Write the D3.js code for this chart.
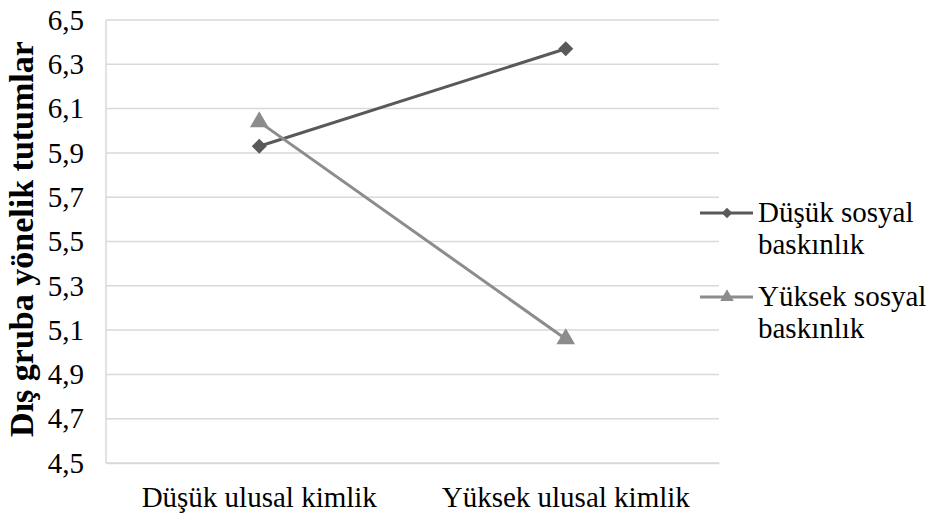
<!DOCTYPE html>
<html><head><meta charset="utf-8">
<script src="https://cdn.jsdelivr.net/npm/d3@7"></script>
<style>body{margin:0;background:#fff}svg{display:block}text{font-family:"Liberation Serif","Times New Roman",serif;fill:#000}</style>
</head><body>
<svg id="c" width="929" height="518"></svg>
<script>
const categories = ["Düşük ulusal kimlik", "Yüksek ulusal kimlik"];
const seriesNames = ["Düşük sosyal baskınlık", "Yüksek sosyal baskınlık"];
const lowSDO = [5.93, 6.37];
const highSDO = [6.04, 5.06];
const yTicks = [4.5, 4.7, 4.9, 5.1, 5.3, 5.5, 5.7, 5.9, 6.1, 6.3, 6.5];
const yTitle = "Dış gruba yönelik tutumlar";

const FONT = '"Liberation Serif","Times New Roman",serif';
const svg = d3.select("#c");
const L = 106, R = 719, T = 20, B = 463;
const x = d3.scaleBand().domain(categories).range([L, R]);
const y = d3.scaleLinear().domain([4.5, 6.5]).range([B, T]);

// gridlines
svg.append("g").selectAll("line").data(yTicks).join("line")
  .attr("x1", L).attr("x2", R).attr("y1", d => y(d)).attr("y2", d => y(d))
  .attr("stroke", "#d9d9d9").attr("stroke-width", 1.5);
svg.append("line").attr("x1", L).attr("x2", L).attr("y1", T).attr("y2", B)
  .attr("stroke", "#d9d9d9").attr("stroke-width", 1.5);

const yAxis = d3.axisLeft(y).tickValues(yTicks).tickSize(0).tickPadding(22)
  .tickFormat(d => d3.format(".1f")(d).replace(".", ","));
const ga = svg.append("g").attr("transform", `translate(${L},0)`).call(yAxis);
ga.attr("font-family", FONT);
ga.select(".domain").remove();
ga.selectAll("text").style("font-size", "29px").style("font-family", FONT).attr("fill", "#000");

const xAxis = d3.axisBottom(x).tickSize(0).tickPadding(23);
const gx = svg.append("g").attr("transform", `translate(0,${B})`).call(xAxis);
gx.attr("font-family", FONT);
gx.select(".domain").attr("stroke", "#d9d9d9").attr("stroke-width", 1.5);
gx.selectAll("text").style("font-size", "29px").style("font-family", FONT).attr("fill", "#000");

svg.append("text").attr("transform", `translate(33,239) rotate(-90)`)
  .attr("text-anchor", "middle").style("font-size", "34px").style("font-weight", "bold").text(yTitle);

const cx = c => x(c) + x.bandwidth() / 2;
const line = d3.line().x((d, i) => cx(categories[i])).y(d => y(d));
const series = [
  {vals: lowSDO, color: "#595959", sym: d3.symbolSquare, rot: 45, size: 112, lsize: 55},
  {vals: highSDO, color: "#8c8c8c", sym: d3.symbolTriangle, rot: 0, size: 150, lsize: 80}
];
series.forEach(s => {
  svg.append("path").datum(s.vals).attr("d", line).attr("fill", "none")
    .attr("stroke", s.color).attr("stroke-width", 3);
});
series.forEach(s => {
  svg.append("g").selectAll("path").data(s.vals).join("path")
    .attr("transform", (d, i) => `translate(${cx(categories[i])},${y(d)}) rotate(${s.rot})`)
    .attr("d", d3.symbol().type(s.sym).size(s.size)).attr("fill", s.color);
});

// legend
const legY = [213, 297];
const legLines = [["Düşük sosyal", "baskınlık"], ["Yüksek sosyal", "baskınlık"]];
series.forEach((s, i) => {
  const g = svg.append("g").attr("transform", `translate(0,${legY[i]})`);
  g.append("line").attr("x1", 700).attr("x2", 753).attr("stroke", s.color).attr("stroke-width", 3);
  g.append("path").attr("transform", `translate(727,0) rotate(${s.rot})`)
    .attr("d", d3.symbol().type(s.sym).size(s.lsize)).attr("fill", s.color);
  const t = g.append("text").attr("x", 758).attr("y", 9).style("font-size", "29px");
  t.append("tspan").attr("x", 758).attr("dy", 0).text(legLines[i][0]);
  t.append("tspan").attr("x", 758).attr("dy", 32).text(legLines[i][1]);
});
</script>
</body></html>
